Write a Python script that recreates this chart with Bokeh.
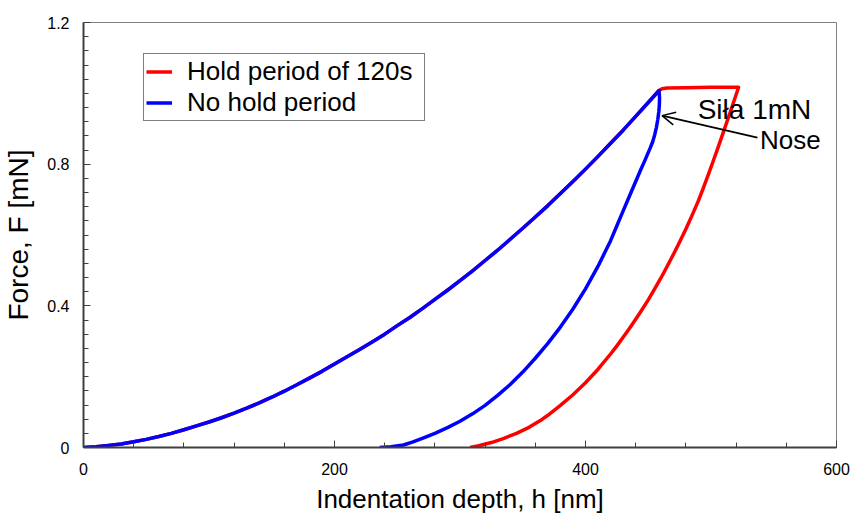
from bokeh.plotting import figure
from bokeh.models import (Range1d, FixedTicker, Legend, LegendItem, Label, Arrow,
                          OpenHead, CustomJSTickFormatter)
from bokeh.embed import file_html
from bokeh.resources import INLINE

# ---------------- data ----------------
# loading branch (shared by both tests)
load_h = [0, 10, 20, 30, 40, 50, 60, 70, 80, 90, 100, 110, 120, 130, 140, 150,
          160, 170, 180, 190, 200, 210, 220, 230, 240, 250, 260, 270, 280, 290,
          300, 310, 320, 330, 340, 350, 360, 370, 380, 390, 400, 410, 420, 430,
          440, 450, 458.6]
load_F = [0, 0.002, 0.006, 0.010, 0.016, 0.023, 0.031, 0.040, 0.050, 0.061,
          0.072, 0.084, 0.097, 0.111, 0.126, 0.142, 0.159, 0.177, 0.196, 0.215,
          0.236, 0.256, 0.277, 0.298, 0.320, 0.344, 0.367, 0.392, 0.418, 0.444,
          0.471, 0.499, 0.528, 0.557, 0.588, 0.619, 0.651, 0.683, 0.717, 0.751,
          0.786, 0.822, 0.859, 0.896, 0.935, 0.974, 1.008]

# no hold period: unloading branch
nohold_unload_h = [459.0, 458.9, 458.4, 457.6, 456.5, 455.2, 453.6, 451.6, 449.3,
                   447.0, 444.0, 440.0, 436.0, 430.0, 425.0, 420.0, 410.0, 400.0,
                   390.0, 380.0, 370.0, 360.0, 350.0, 340.0, 330.0, 320.0, 310.0,
                   300.0, 290.0, 280.0, 270.0, 262.0, 255.0, 245.0, 236.0]
nohold_unload_F = [0.988, 0.970, 0.948, 0.926, 0.904, 0.884, 0.864, 0.846, 0.827,
                   0.808, 0.784, 0.751, 0.718, 0.668, 0.626, 0.584, 0.512, 0.448,
                   0.391, 0.340, 0.294, 0.252, 0.213, 0.178, 0.147, 0.119, 0.095,
                   0.074, 0.056, 0.040, 0.026, 0.015, 0.007, 0.002, 0]

# hold period of 120 s: hold plateau + unloading branch
hold_h = [461, 465, 480, 500, 522]
hold_F = [1.013, 1.015, 1.016, 1.017, 1.017]
hold_unload_h = [518, 514, 510, 506, 502, 498, 494, 490, 485, 480, 475, 470, 465,
                 460, 455, 450, 445, 440, 435, 430, 425, 420, 410, 400, 390, 380,
                 370, 364, 355, 345, 335, 325, 315, 308]
hold_unload_F = [0.975, 0.933, 0.892, 0.851, 0.811, 0.772, 0.734, 0.697, 0.656,
                 0.617, 0.580, 0.545, 0.511, 0.478, 0.447, 0.417, 0.389, 0.362,
                 0.336, 0.311, 0.287, 0.264, 0.221, 0.183, 0.149, 0.119, 0.091,
                 0.076, 0.057, 0.040, 0.026, 0.014, 0.005, 0]

x_ticks = [0, 200, 400, 600]
y_ticks = [0, 0.4, 0.8, 1.2]
x_minor_step = 40
y_minor_step = 0.04

series_labels = ["Hold period of 120s", "No hold period"]
series_colors = ["#ff0000", "#0000ff"]

annot_force = "Siła 1mN"
annot_nose = "Nose"

FONT = "Liberation Sans"

# ---------------- figure ----------------
p = figure(width=851, height=520, output_backend="svg", toolbar_location=None,
           x_range=Range1d(0, 600), y_range=Range1d(0, 1.2),
           min_border_left=82, min_border_right=15, min_border_top=22,
           min_border_bottom=73)
p.background_fill_color = "white"
p.border_fill_color = "white"
p.xgrid.visible = False
p.ygrid.visible = False
p.outline_line_color = "#808080"
p.outline_line_width = 1

x_minor = [i * x_minor_step for i in range(int(600 / x_minor_step) + 1)]
y_minor = [round(i * y_minor_step, 4) for i in range(int(round(1.2 / y_minor_step)) + 1)]

p.xaxis.ticker = FixedTicker(ticks=x_ticks, minor_ticks=x_minor)
p.yaxis.ticker = FixedTicker(ticks=y_ticks, minor_ticks=y_minor)
fmt = CustomJSTickFormatter(code="return (Math.round(tick*10)/10).toString();")
p.xaxis.formatter = fmt
p.yaxis.formatter = fmt

for ax in (p.xaxis, p.yaxis):
    ax.axis_line_color = "#404040"
    ax.axis_line_width = 2
    ax.major_tick_line_color = "#404040"
    ax.minor_tick_line_color = "#404040"
    ax.major_tick_in = 7
    ax.major_tick_out = 0
    ax.minor_tick_in = 5
    ax.minor_tick_out = 0
    ax.major_label_text_font = FONT
    ax.major_label_text_font_size = "16px"
    ax.major_label_text_color = "black"
    ax.axis_label_text_font = FONT
    ax.axis_label_text_font_style = "normal"
    ax.axis_label_text_color = "black"

p.xaxis.axis_label = "Indentation depth, h [nm]"
p.yaxis.axis_label = "Force, F [mN]"
p.xaxis.axis_label_text_font_size = "26px"
p.yaxis.axis_label_text_font_size = "28px"
p.xaxis.major_label_standoff = 15
p.yaxis.major_label_standoff = 14
p.xaxis.axis_label_standoff = 6
p.yaxis.axis_label_standoff = 10

# ---------------- curves ----------------
red_h = load_h + hold_h + hold_unload_h
red_F = load_F + hold_F + hold_unload_F
blue_h = load_h + nohold_unload_h
blue_F = load_F + nohold_unload_F

r_red = p.line(red_h, red_F, line_color=series_colors[0], line_width=3.5,
               line_join="round", line_cap="butt")
r_blue = p.line(blue_h, blue_F, line_color=series_colors[1], line_width=3.5,
                line_join="round", line_cap="butt")

# ---------------- legend ----------------
legend = Legend(items=[LegendItem(label=series_labels[0], renderers=[r_red]),
                       LegendItem(label=series_labels[1], renderers=[r_blue])],
                location=(60, 326), margin=0, padding=2, spacing=0,
                glyph_width=26, glyph_height=31, label_height=31,
                label_standoff=15, label_width=235, label_text_font=FONT,
                label_text_font_size="26px", label_text_color="black",
                border_line_color="black", border_line_width=1,
                background_fill_color="white", background_fill_alpha=1)
p.add_layout(legend)

# ---------------- annotations ----------------
p.add_layout(Label(x=489.4, y=0.954, text=annot_force, text_font=FONT,
                   text_font_size="28px", text_color="black",
                   text_baseline="alphabetic", text_align="left"))
p.add_layout(Label(x=539, y=0.868, text=annot_nose, text_font=FONT,
                   text_font_size="26px", text_color="black",
                   text_baseline="alphabetic", text_align="left"))
p.add_layout(Arrow(end=OpenHead(size=13, line_width=1.5, line_color="black"),
                   x_start=537, y_start=0.875, x_end=461, y_end=0.937,
                   line_width=1.8, line_color="black"))

open("out.html", "w").write(file_html(p, INLINE))
